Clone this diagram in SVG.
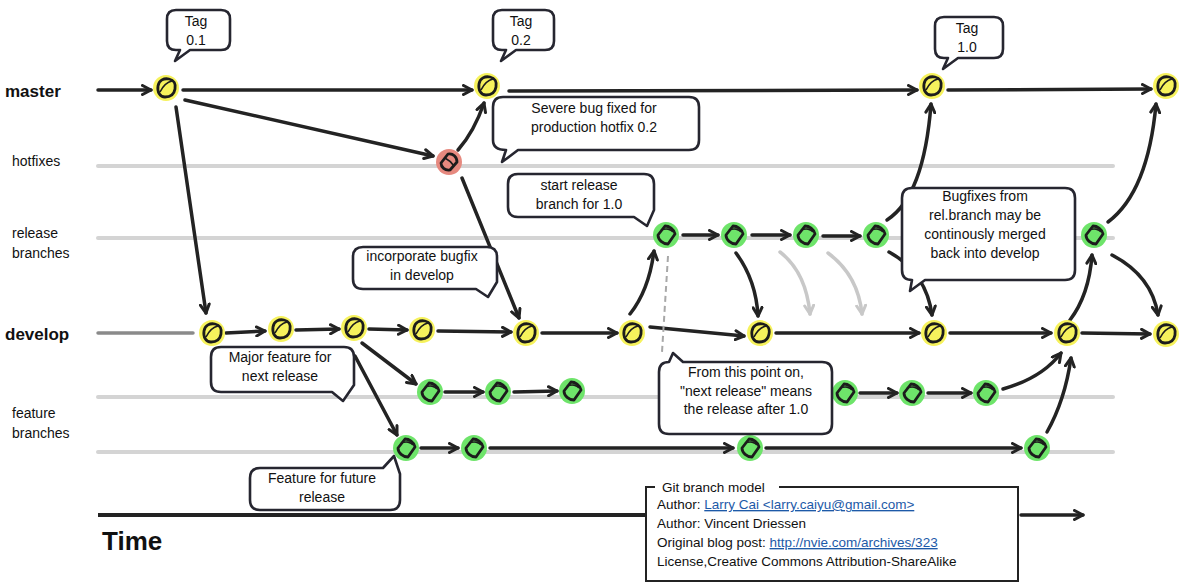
<svg xmlns="http://www.w3.org/2000/svg" xmlns:xlink="http://www.w3.org/1999/xlink" width="1191" height="586" viewBox="0 0 1191 586">
<style>
.lane{stroke:#d4d4d4;stroke-width:4;stroke-linecap:round;fill:none}
.edge{stroke:#232323;stroke-width:3.5;fill:none;stroke-linecap:round;marker-end:url(#ah)}
.gedge{stroke:#c8c8c8;stroke-width:3.5;fill:none;stroke-linecap:round;marker-end:url(#ahg)}
.bubble{fill:#fff;stroke:#262630;stroke-width:2.6;stroke-linejoin:round}
.bt{font-family:"Liberation Sans",Arial,sans-serif;font-size:14px;fill:#111;text-anchor:middle}
.lb{font-family:"Liberation Sans",Arial,sans-serif;font-size:14px;fill:#111}
.lbb{font-family:"Liberation Sans",Arial,sans-serif;font-size:17px;font-weight:bold;fill:#111}
.lg{font-family:"Liberation Sans",Arial,sans-serif;font-size:13.5px;fill:#111}
.lnk{fill:#1d5aa8;text-decoration:underline}
.ink{fill:none;stroke:#1c1c1c;stroke-width:2.8;stroke-linejoin:round}
.ink2{fill:none;stroke:#1c1c1c;stroke-width:1.6}
</style>
<defs>
<marker id="ah" viewBox="0 0 12 12" refX="10" refY="6" markerWidth="12" markerHeight="12" markerUnits="userSpaceOnUse" orient="auto">
<path d="M1.5,1.5 L10,6 L1.5,10.5" fill="none" stroke="#232323" stroke-width="3" stroke-linecap="round" stroke-linejoin="round"/>
</marker>
<marker id="ahg" viewBox="0 0 12 12" refX="10" refY="6" markerWidth="12" markerHeight="12" markerUnits="userSpaceOnUse" orient="auto">
<path d="M1.5,1.5 L10,6 L1.5,10.5" fill="none" stroke="#c8c8c8" stroke-width="3" stroke-linecap="round" stroke-linejoin="round"/>
</marker>
<g id="yn"><circle r="13" fill="#f6f25c"/><path class="ink" d="M-8,-2 C-7,-8 -2,-10 3,-9 C8,-8 10,-4 9,1 C8,7 4,9 -1,9 C-6,9 -9,4 -8,-2 Z"/><path class="ink2" d="M-6,4 C-3,-2 1,-6 6,-7"/></g>
<g id="gn"><circle r="13" fill="#6ee46a"/><path class="ink" d="M-8,0 L-1,-9 C3,-9 8,-6 9,-1 L2,9 C-3,9 -8,5 -8,0 Z" fill="#58d955"/><path class="ink2" d="M-5,-5 C0,-7 5,-6 7,-3"/></g>
<g id="rn"><circle r="13" fill="#e6897f"/><path class="ink" d="M-8,1 L-1,-8 C4,-9 8,-5 8,0 L1,8 C-4,9 -8,5 -8,1 Z"/><path class="ink2" d="M-4,-4 C0,-2 3,1 5,4"/></g>
</defs>
<rect width="1191" height="586" fill="#fff"/>

<g id="lanes">
<path class="lane" d="M98,166 H1113"/>
<path class="lane" d="M98,238 H1113"/>
<path class="lane" d="M98,397 H1113"/>
<path class="lane" d="M98,452 H1113"/>
<path d="M98,333 H193" stroke="#8a8a8a" stroke-width="3.5" stroke-linecap="round"/>
</g>

<g id="labels">
<text class="lbb" x="5" y="97">master</text>
<text class="lb" x="12" y="166">hotfixes</text>
<text class="lb" x="12" y="238">release</text>
<text class="lb" x="12" y="258">branches</text>
<text class="lbb" x="5" y="340">develop</text>
<text class="lb" x="12" y="418">feature</text>
<text class="lb" x="12" y="438">branches</text>
<text x="102" y="550" font-family="Liberation Sans,Arial,sans-serif" font-size="26" font-weight="bold" fill="#111">Time</text>
</g>

<g id="connectors">
<path class="edge" d="M98,90 L151,90"/>
<path class="edge" d="M183,90 L472,90"/>
<path class="edge" d="M509,91 L917,90"/>
<path class="edge" d="M948,90 L1151,89"/>
<path class="edge" d="M185,100 L433,156"/>
<path class="edge" d="M458,150 Q474,132 484,103"/>
<path class="edge" d="M462,178 L519,318"/>
<path class="edge" d="M176,107 L206,313"/>
<path class="edge" d="M226,333 L265,331"/>
<path class="edge" d="M296,330 L339,329"/>
<path class="edge" d="M369,329 L407,330"/>
<path class="edge" d="M438,331 L511,332"/>
<path class="edge" d="M542,333 L617,333"/>
<path class="edge" d="M650,327 L744,336"/>
<path class="edge" d="M776,333 L919,333"/>
<path class="edge" d="M950,333 L1051,333"/>
<path class="edge" d="M1082,333 L1150,334"/>
<path class="edge" d="M362,343 L416,384"/>
<path class="edge" d="M355,356 L397,435"/>
<path class="edge" d="M445,392 L483,392"/>
<path class="edge" d="M514,392 L557,391"/>
<path class="edge" d="M860,393 L897,393"/>
<path class="edge" d="M928,393 L971,393"/>
<path class="edge" d="M1003,389 Q1042,378 1061,353"/>
<path class="edge" d="M421,448 L458,448"/>
<path class="edge" d="M490,448 L733,448"/>
<path class="edge" d="M766,448 L1021,448"/>
<path class="edge" d="M1047,432 Q1065,400 1071,358"/>
<path class="edge" d="M630,314 Q649,290 654,251"/>
<path class="edge" d="M683,235 L718,235"/>
<path class="edge" d="M752,235 L790,235"/>
<path class="edge" d="M823,236 L860,236"/>
<path class="edge" d="M736,253 Q756,280 758,316"/>
<path class="gedge" d="M780,252 Q806,272 810,314"/>
<path class="gedge" d="M828,253 Q858,275 862,314"/>
<path class="edge" d="M887,220 Q924,196 931,104"/>
<path class="edge" d="M889,252 Q926,272 932,315"/>
<path class="edge" d="M1108,222 Q1148,192 1156,104"/>
<path class="edge" d="M1112,255 Q1152,276 1158,315"/>
<path class="edge" d="M1070,320 Q1089,295 1092,255"/>
<path d="M668,256 L662,352" stroke="#a8a8a8" stroke-width="2" stroke-dasharray="6,4" fill="none"/>
<path d="M98,515 H648" stroke="#232323" stroke-width="4" fill="none"/>
<path class="edge" d="M1021,515 L1083,515" stroke-width="4"/>
</g>

<g id="nodes">
<g id="m1"><use xlink:href="#yn" x="166" y="88"/></g>
<g id="m2"><use xlink:href="#yn" x="487" y="86"/></g>
<g id="m3"><use xlink:href="#yn" x="932" y="86"/></g>
<g id="m4"><use xlink:href="#yn" x="1166" y="86"/></g>
<g id="h1"><use xlink:href="#rn" x="449" y="162"/></g>
<g id="r1"><use xlink:href="#gn" x="666" y="235"/></g>
<g id="r2"><use xlink:href="#gn" x="734" y="235"/></g>
<g id="r3"><use xlink:href="#gn" x="806" y="235"/></g>
<g id="r4"><use xlink:href="#gn" x="876" y="235"/></g>
<g id="r5"><use xlink:href="#gn" x="1094" y="235"/></g>
<g id="d1"><use xlink:href="#yn" x="212" y="333"/></g>
<g id="d2"><use xlink:href="#yn" x="281" y="329"/></g>
<g id="d3"><use xlink:href="#yn" x="354" y="328"/></g>
<g id="d4"><use xlink:href="#yn" x="422" y="330"/></g>
<g id="d5"><use xlink:href="#yn" x="526" y="333"/></g>
<g id="d6"><use xlink:href="#yn" x="632" y="333"/></g>
<g id="d7"><use xlink:href="#yn" x="760" y="333"/></g>
<g id="d8"><use xlink:href="#yn" x="934" y="333"/></g>
<g id="d9"><use xlink:href="#yn" x="1067" y="333"/></g>
<g id="d10"><use xlink:href="#yn" x="1166" y="334"/></g>
<g id="f1"><use xlink:href="#gn" x="430" y="392"/></g>
<g id="f2"><use xlink:href="#gn" x="498" y="392"/></g>
<g id="f3"><use xlink:href="#gn" x="572" y="391"/></g>
<g id="f4"><use xlink:href="#gn" x="845" y="393"/></g>
<g id="f5"><use xlink:href="#gn" x="912" y="393"/></g>
<g id="f6"><use xlink:href="#gn" x="986" y="393"/></g>
<g id="g1"><use xlink:href="#gn" x="406" y="448"/></g>
<g id="g2"><use xlink:href="#gn" x="474" y="448"/></g>
<g id="g3"><use xlink:href="#gn" x="750" y="448"/></g>
<g id="g4"><use xlink:href="#gn" x="1037" y="448"/></g>
</g>

<g id="callout-tag01">
<path class="bubble" d="M176,10 H221 Q230,10 230,19 V41 Q230,50 221,50 H190 L175,61 L180,50 H176 Q167,50 167,41 V19 Q167,10 176,10 Z"/>
<text class="bt" x="196" y="26">Tag</text><text class="bt" x="196" y="45">0.1</text>
</g>
<g id="callout-tag02">
<path class="bubble" d="M502,10 H545 Q554,10 554,19 V41 Q554,50 545,50 H516 L501,61 L506,50 H502 Q493,50 493,41 V19 Q493,10 502,10 Z"/>
<text class="bt" x="521" y="26">Tag</text><text class="bt" x="521" y="45">0.2</text>
</g>
<g id="callout-tag10">
<path class="bubble" d="M944,17 H994 Q1003,17 1003,26 V49 Q1003,58 994,58 H958 L943,69 L948,58 H944 Q935,58 935,49 V26 Q935,17 944,17 Z"/>
<text class="bt" x="967" y="33">Tag</text><text class="bt" x="967" y="52">1.0</text>
</g>
<g id="callout-severe">
<path class="bubble" d="M503,97 H689 Q699,97 699,107 V140 Q699,150 689,150 H518 L502,162 L506,150 Q493,150 493,140 V107 Q493,97 503,97 Z"/>
<text class="bt" x="594" y="113">Severe bug fixed for</text><text class="bt" x="594" y="132">production hotfix 0.2</text>
</g>
<g id="callout-start">
<path class="bubble" d="M518,174 H644 Q654,174 654,184 V210 L647,226 L634,217 H518 Q508,217 508,207 V184 Q508,174 518,174 Z"/>
<text class="bt" x="579" y="190">start release</text><text class="bt" x="579" y="209">branch for 1.0</text>
</g>
<g id="callout-incorporate">
<path class="bubble" d="M363,247 H487 Q497,247 497,257 V282 L488,297 L476,289 H363 Q353,289 353,279 V257 Q353,247 363,247 Z"/>
<text class="bt" x="422" y="261">incorporate bugfix</text><text class="bt" x="422" y="280">in develop</text>
</g>
<g id="callout-major">
<path class="bubble" d="M221,347 H344 Q354,347 354,357 V385 L343,401 L332,392 H221 Q211,392 211,382 V357 Q211,347 221,347 Z"/>
<text class="bt" x="280" y="362">Major feature for</text><text class="bt" x="280" y="381">next release</text>
</g>
<g id="callout-next">
<path class="bubble" d="M659,372 Q659,362 669,362 L673,353 L683,362 H822 Q832,362 832,372 V424 Q832,434 822,434 H669 Q659,434 659,424 Z"/>
<text class="bt" x="746" y="377">From this point on,</text><text class="bt" x="746" y="396">"next release" means</text><text class="bt" x="746" y="414">the release after 1.0</text>
</g>
<g id="callout-bugfixes">
<path class="bubble" d="M912,188 H1065 Q1075,188 1075,198 V270 Q1075,280 1065,280 H925 L910,291 L912,280 Q902,280 902,270 V198 Q902,188 912,188 Z"/>
<text class="bt" x="985" y="201">Bugfixes from</text><text class="bt" x="985" y="220">rel.branch may be</text><text class="bt" x="985" y="239">continously merged</text><text class="bt" x="985" y="258">back into develop</text>
</g>
<g id="callout-future">
<path class="bubble" d="M260,468 H383 L394,456 L400,474 V500 Q400,510 390,510 H260 Q250,510 250,500 V478 Q250,468 260,468 Z"/>
<text class="bt" x="322" y="483">Feature for future</text><text class="bt" x="322" y="502">release</text>
</g>

<g id="legend">
<path d="M655,487 H646 V581 H1018 V487 H779" fill="#fff" stroke="#232323" stroke-width="2"/>
<text class="lg" x="662" y="492">Git branch model</text>
<text class="lg" x="657" y="509">Author: <tspan class="lnk">Larry Cai &lt;larry.caiyu@gmail.com&gt;</tspan></text>
<text class="lg" x="657" y="528">Author: Vincent Driessen</text>
<text class="lg" x="657" y="547">Original blog post: <tspan class="lnk">http://nvie.com/archives/323</tspan></text>
<text class="lg" x="657" y="566">License,Creative Commons Attribution-ShareAlike</text>
</g>
</svg>
